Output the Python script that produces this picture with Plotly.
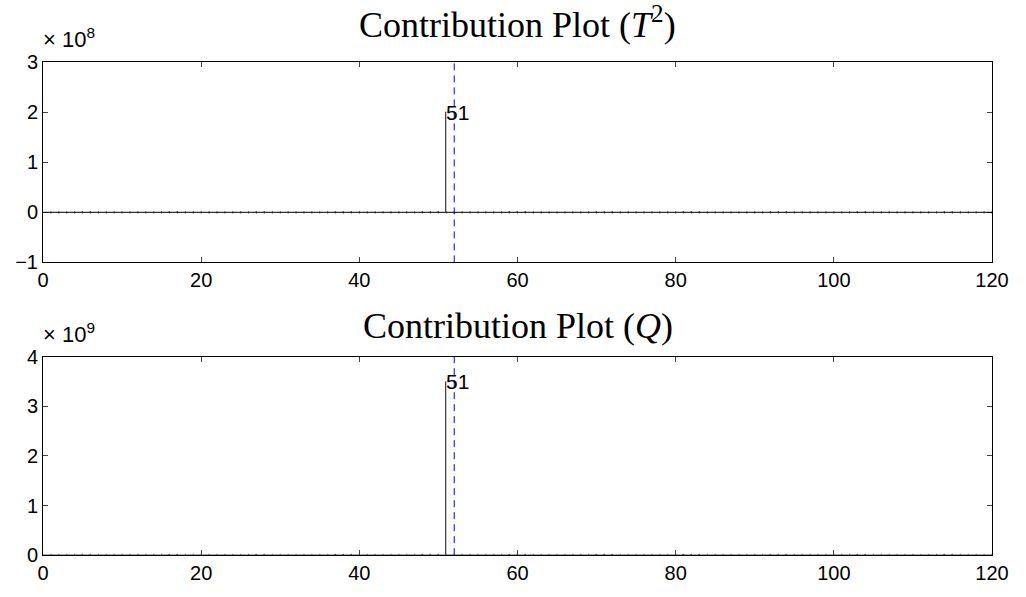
import plotly.graph_objects as go

# Variable indices and their contributions to each statistic
variables = list(range(1, 121))
t2_contrib = [0.0] * 50 + [2.0e8] + [0.0] * 69
q_contrib = [0.0] * 50 + [3.5e9] + [0.0] * 69

# Flagged variable and the reference (dashed) line position
fault_var = 51
marker_x = 52

# Axis settings
x_ticks = [0, 20, 40, 60, 80, 100, 120]
t2_yticks = [-1, 0, 1, 2, 3]
q_yticks = [0, 1, 2, 3, 4]
t2_scale = 1e8
q_scale = 1e9

W, H = 1026, 597
L, R = 43, 34


def py(pix):
    return 1 - pix / H


fig = go.Figure()

panels = [
    ("x", "y", t2_contrib, t2_scale, t2_yticks, (53, 261), 37,
     "Contribution Plot (<i>T</i><sup>2</sup>)", "8"),
    ("x2", "y2", q_contrib, q_scale, q_yticks, (359, 565), 350,
     "Contribution Plot (<i>Q</i>)", "9"),
]

for i, (xa, ya, vals, scale, yt, (top, bot), title_y, title, expo) in enumerate(panels):
    scaled = [v / scale for v in vals]
    # bars drawn as thin stems
    fig.add_trace(go.Bar(x=variables, y=scaled, width=0.03, xaxis=xa, yaxis=ya,
                         marker=dict(color="black", line=dict(width=0.6, color="black")),
                         showlegend=False, hoverinfo="skip"))
    # small marks for near-zero contributions along the baseline
    fig.add_trace(go.Scatter(x=variables, y=[0] * len(variables), mode="markers",
                             marker=dict(symbol="line-ns", size=2,
                                         line=dict(width=1, color="#777777")),
                             xaxis=xa, yaxis=ya, showlegend=False, hoverinfo="skip"))
    sfx = "" if i == 0 else "2"
    fig.update_layout(**{
        "xaxis" + sfx: dict(range=[0, 120], tickvals=x_ticks, ticks="inside", ticklen=5,
                            showline=True, linecolor="black", linewidth=1, mirror="ticks",
                            showgrid=False, zeroline=False, domain=[0, 1],
                            anchor="y" + sfx, tickfont=dict(family="Liberation Sans", size=20, color="black")),
        "yaxis" + sfx: dict(range=[yt[0], yt[-1]], tickvals=yt, ticks="inside", ticklen=5,
                            showline=True, linecolor="black", linewidth=1, mirror="ticks",
                            showgrid=False, zeroline=False, domain=[py(bot), py(top)],
                            anchor="x" + sfx, tickfont=dict(family="Liberation Sans", size=20, color="black")),
    })
    # baseline
    fig.add_shape(type="line", xref=xa, yref=ya, x0=0, x1=120, y0=0, y1=0,
                  line=dict(color="black", width=1))
    # dashed reference line
    fig.add_shape(type="line", xref=xa, yref=ya, x0=marker_x, x1=marker_x,
                  y0=yt[0], y1=yt[-1], line=dict(color="blue", width=1, dash="7px,5px"))
    # value label at the flagged variable
    fig.add_annotation(x=fault_var, y=vals[fault_var - 1] / scale, xref=xa, yref=ya,
                       text=str(fault_var), showarrow=False, xanchor="left", yanchor="middle",
                       xshift=-2, font=dict(family="Liberation Sans", size=21, color="black"))
    # title
    fig.add_annotation(x=0.5, y=py(title_y), xref="paper", yref="paper", text=title,
                       showarrow=False, xanchor="center", yanchor="bottom",
                       font=dict(family="Liberation Serif", size=36, color="black"))
    # exponent label
    fig.add_annotation(x=-0.002, y=py(top - 8), xref="paper", yref="paper",
                       text="\u00d7 10<sup>" + expo + "</sup>", showarrow=False,
                       xanchor="left", yanchor="bottom",
                       font=dict(family="Liberation Sans", size=22, color="black"))

fig.update_layout(width=W, height=H, margin=dict(l=L, r=R, t=0, b=0),
                  plot_bgcolor="white", paper_bgcolor="white", bargap=0)

fig.write_html("out.html")
